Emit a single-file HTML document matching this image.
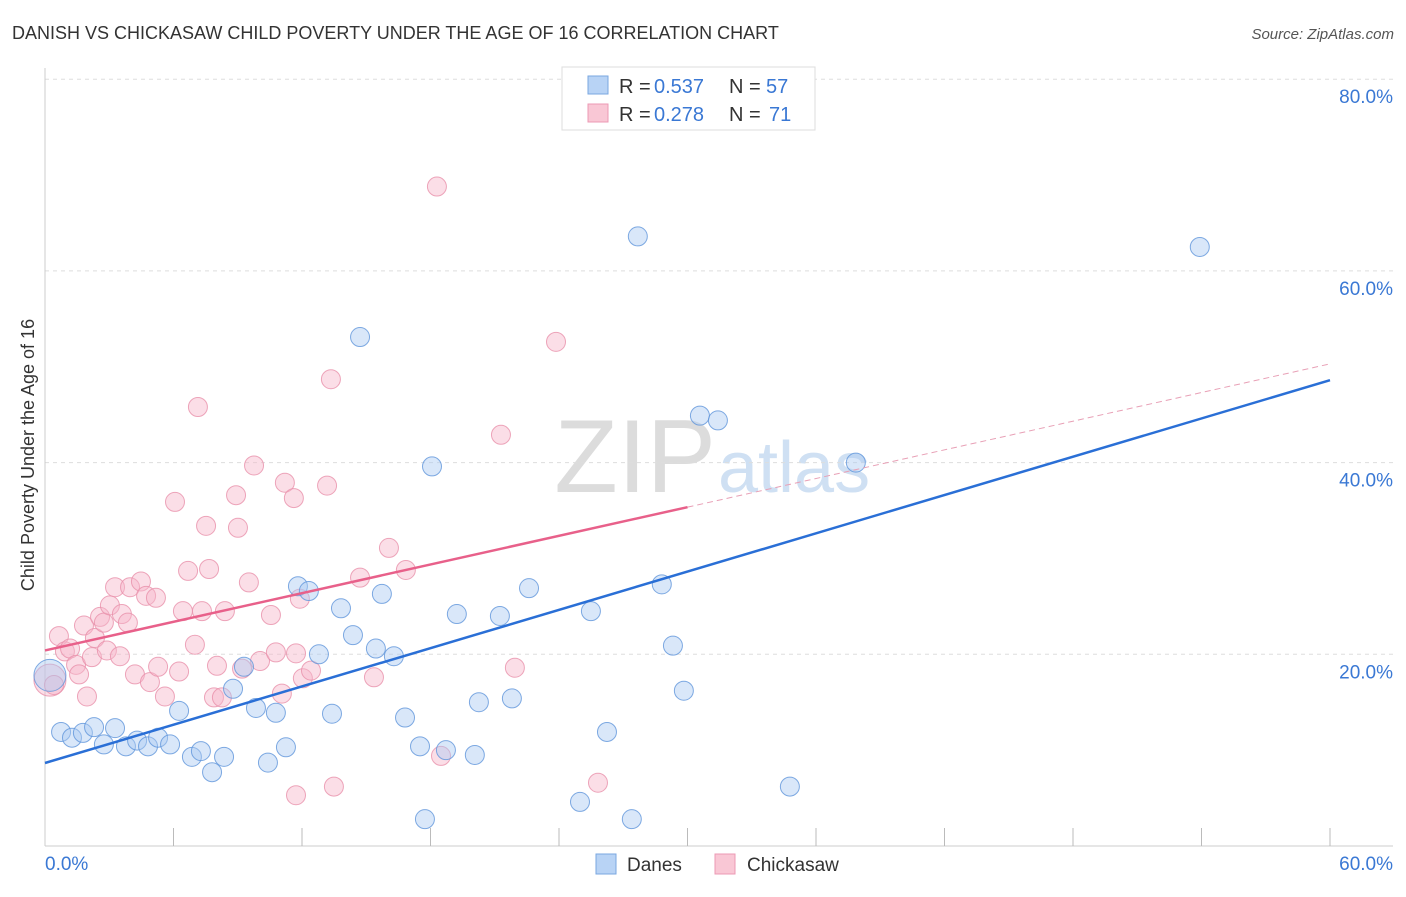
<!DOCTYPE html>
<html><head><meta charset="utf-8"><style>
body{margin:0;background:#fff;font-family:"Liberation Sans",sans-serif}
svg text{font-family:"Liberation Sans",sans-serif}
</style></head><body>
<svg id="c" width="1406" height="892" xmlns="http://www.w3.org/2000/svg">
<text x="12" y="39" font-size="18" fill="#333">DANISH VS CHICKASAW CHILD POVERTY UNDER THE AGE OF 16 CORRELATION CHART</text>
<text x="1394" y="39" font-size="15" fill="#555" text-anchor="end" font-style="italic">Source: ZipAtlas.com</text>
<text x="716" y="492" font-size="104" fill="#dcdcdc" text-anchor="end" font-family="Liberation Serif">ZIP</text>
<text x="718" y="492" font-size="72" fill="#cfe0f3">atlas</text>
<g id="grid"></g><g id="marks"></g>
<text transform="translate(34,455) rotate(-90)" font-size="18" fill="#333" text-anchor="middle">Child Poverty Under the Age of 16</text>
<g>
<rect x="562" y="67" width="253" height="63" fill="#fff" stroke="#ddd"/>
<rect x="588" y="76" width="20" height="18" fill="#b8d3f5" stroke="#7aa7e0"/>
<rect x="588" y="104" width="20" height="18" fill="#f9c7d5" stroke="#ec9ab4"/>
<text x="619" y="93" font-size="20" fill="#333">R =</text><text x="654" y="93" font-size="20" fill="#3a78d4">0.537</text>
<text x="729" y="93" font-size="20" fill="#333">N =</text><text x="766" y="93" font-size="20" fill="#3a78d4">57</text>
<text x="619" y="121" font-size="20" fill="#333">R =</text><text x="654" y="121" font-size="20" fill="#3a78d4">0.278</text>
<text x="729" y="121" font-size="20" fill="#333">N =</text><text x="769" y="121" font-size="20" fill="#3a78d4">71</text>
</g>
<g>
<rect x="596" y="854" width="20" height="20" fill="#b8d3f5" stroke="#7aa7e0"/>
<text x="627" y="871" font-size="19" fill="#333">Danes</text>
<rect x="715" y="854" width="20" height="20" fill="#f9c7d5" stroke="#ec9ab4"/>
<text x="747" y="871" font-size="19" fill="#333">Chickasaw</text>
</g>
</svg>
<script>
const xTicks=[0,6,12,18,24,30,36,42,48,54,60];
const yTicks=[20,40,60,80];
const danesX=[0.23,0.75,1.26,1.77,2.29,2.75,3.27,3.78,4.30,4.81,5.28,5.84,6.26,6.86,7.28,7.80,8.36,8.78,9.29,9.85,10.41,10.78,11.25,11.81,12.32,12.79,13.40,13.82,14.38,14.71,15.45,15.73,16.29,16.81,17.51,17.74,18.07,18.72,19.23,20.07,20.26,21.24,21.80,22.60,24.98,25.49,26.24,27.40,27.68,28.80,29.32,29.83,30.58,31.42,34.78,37.86,53.92];
const danesY=[17.8,11.9,11.3,11.8,12.4,10.6,12.3,10.4,11.0,10.4,11.3,10.6,14.1,9.3,9.9,7.7,9.3,16.4,18.7,14.4,8.7,13.9,10.3,27.1,26.6,20.0,13.8,24.8,22.0,53.1,20.6,26.3,19.8,13.4,10.4,2.8,39.6,10.0,24.2,9.5,15.0,24.0,15.4,26.9,4.6,24.5,11.9,2.8,63.6,27.3,20.9,16.2,44.9,44.4,6.2,40.0,62.5];
const chickX=[0.23,0.42,0.65,0.93,1.17,1.45,1.59,1.96,1.82,2.33,2.19,2.57,2.75,3.03,2.89,3.27,3.50,3.59,3.87,3.97,4.20,4.48,4.72,4.90,5.18,5.28,5.60,6.07,6.26,6.44,6.68,7.00,7.14,7.33,7.52,7.66,7.89,8.03,8.26,8.40,8.92,9.01,9.20,9.52,9.76,10.04,10.55,10.78,11.06,11.20,11.62,11.72,11.90,12.04,12.42,13.17,13.35,13.49,14.71,15.36,16.06,16.85,18.30,18.49,21.29,21.94,23.86,25.82,11.72];
const chickY=[17.3,16.8,21.9,20.3,20.6,18.9,17.9,15.6,23.0,21.7,19.7,23.9,23.3,25.1,20.4,27.0,19.8,24.2,23.3,27.0,17.9,27.6,26.1,17.1,25.9,18.7,15.6,35.9,18.2,24.5,28.7,21.0,45.8,24.5,33.4,28.9,15.5,18.8,15.5,24.5,36.6,33.2,18.5,27.5,39.7,19.3,24.1,20.2,15.9,37.9,36.3,20.1,25.8,17.5,18.3,37.6,48.7,6.2,28.0,17.6,31.1,28.8,68.8,9.4,42.9,18.6,52.6,6.6,5.3];
const danesFit=[8.66,48.6];
const chickFit=[20.4,50.3];
const X=v=>45+v/60*1285, Y=v=>846-v/20*191.7;
const NS='http://www.w3.org/2000/svg';
function mk(t,a,p){const e=document.createElementNS(NS,t);for(const k in a)e.setAttribute(k,a[k]);p.appendChild(e);return e;}
const g=document.getElementById('grid'), m=document.getElementById('marks');
yTicks.forEach(t=>{
 const l=mk('line',{x1:45,x2:1393,y1:Y(t),y2:Y(t),stroke:'#ddd','stroke-dasharray':'4,4'},g);
 
 
 const tx=mk('text',{x:1393,y:Y(t)+24,'font-size':19,fill:'#3a78d4','text-anchor':'end'},g);tx.textContent=t.toFixed(1)+'%';
 
 
});
const ax=mk('line',{x1:45,x2:1393,y1:846,y2:846,stroke:'#ccc'},g);


const ay=mk('line',{x1:45,x2:45,y1:68,y2:846,stroke:'#ccc'},g);


xTicks.forEach(t=>{if(t>0){const k=mk('line',{x1:X(t),x2:X(t),y1:828,y2:846,stroke:'#bbb'},g);
 
 }});
[[0,'start',45],[60,'end',1393]].forEach(([t,a,x])=>{const tx=mk('text',{x:x,y:870,'font-size':19,fill:'#3a78d4','text-anchor':a},g);tx.textContent=t.toFixed(1)+'%';
 
 });
function dots(xs,ys,fill,stroke,name){xs.forEach((x,i)=>{const big=i==0;
 const c=mk('circle',{cx:X(x),cy:Y(ys[i]),r:big?16:9.5,fill:fill,'fill-opacity':0.45,stroke:stroke,'stroke-opacity':0.8,'stroke-width':1},m);
 
 });}
dots(chickX,chickY,'#f6b6c9','#e890aa','chickasaw');
dots(danesX,danesY,'#aac9f1','#5f95db','danes');
const pl=mk('line',{x1:X(0),y1:Y(chickFit[0]),x2:X(30),y2:Y(chickFit[0]+(chickFit[1]-chickFit[0])/2),stroke:'#e8608a','stroke-width':2.5},m);


const pd=mk('line',{x1:X(30),y1:Y(chickFit[0]+(chickFit[1]-chickFit[0])/2),x2:X(60),y2:Y(chickFit[1]),stroke:'#e8a0b6','stroke-width':1,'stroke-dasharray':'6,4'},m);


const bl=mk('line',{x1:X(0),y1:Y(danesFit[0]),x2:X(60),y2:Y(danesFit[1]),stroke:'#2a6fd6','stroke-width':2.5},m);


</script>
</body></html>
